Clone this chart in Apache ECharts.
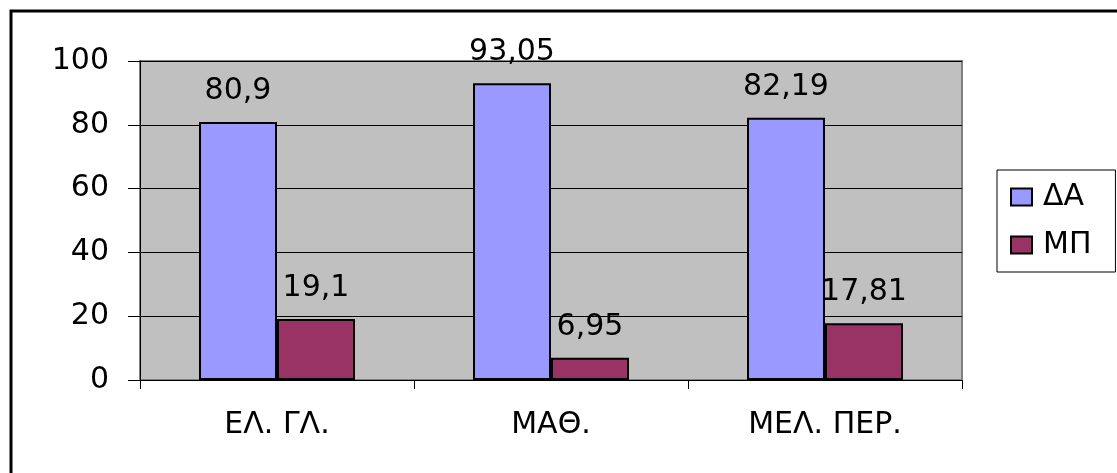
<!DOCTYPE html>
<html>
<head>
<meta charset="utf-8">
<script src="https://cdn.jsdelivr.net/npm/echarts@6/dist/echarts.min.js"></script>
<style>
  html, body { margin: 0; padding: 0; background: #fff; }
  #chart { width: 1117px; height: 473px; }
</style>
</head>
<body>
<div id="chart"></div>
<script>
  const categories = ['ΕΛ. ΓΛ.', 'ΜΑΘ.', 'ΜΕΛ. ΠΕΡ.'];
  const seriesNames = ['ΔΑ', 'ΜΠ'];
  const daValues = [80.9, 93.05, 82.19];
  const mpValues = [19.1, 6.95, 17.81];
  const colors = ['#9999ff', '#993366'];

  const FONT = '"DejaVu Sans", sans-serif';
  const SIZE = 30;
  const fmt = (p)=> String(p.value).replace('.', ',');

  const myChart = echarts.init(document.getElementById('chart'));

  const bar = (name, data, color)=>({
    name,
    type: 'bar',
    data,
    barWidth: 78,
    barGap: '0%',
    itemStyle: { color, borderColor: '#000', borderWidth: 2 },
    label: {
      show: true,
      position: 'top',
      distance: 16,
      formatter: fmt,
      color: '#000',
      fontFamily: FONT,
      fontSize: SIZE
    }
  });

  myChart.setOption({
    animation: false,
    backgroundColor: '#fff',
    graphic: [{
      type: 'rect',
      shape: { x: 11, y: 11, width: 1130, height: 480 },
      style: { fill: 'none', stroke: '#000', lineWidth: 3 },
      silent: true
    }],
    grid: {
      left: 140, top: 61, right: 155, bottom: 93,
      show: true,
      backgroundColor: '#c0c0c0',
      borderColor: '#808080',
      borderWidth: 2
    },
    legend: {
      orient: 'vertical',
      left: 997,
      top: 170,
      data: seriesNames,
      backgroundColor: '#fff',
      borderColor: '#000',
      borderWidth: 1,
      padding: [12, 24, 12, 13],
      itemGap: 18,
      itemWidth: 21,
      itemHeight: 17,
      icon: 'rect',
      itemStyle: { borderColor: '#000', borderWidth: 2 },
      textStyle: { color: '#000', fontFamily: FONT, fontSize: SIZE, padding: [0, 0, 0, 6] }
    },
    xAxis: {
      type: 'category',
      data: categories,
      axisLine: { lineStyle: { color: '#000', width: 1 } },
      axisTick: { show: true, length: 9, lineStyle: { color: '#000' } },
      axisLabel: { color: '#000', fontFamily: FONT, fontSize: SIZE, margin: 30 },
      splitLine: { show: false }
    },
    yAxis: {
      type: 'value',
      min: 0,
      max: 100,
      interval: 20,
      axisLine: { show: true, lineStyle: { color: '#000', width: 1 } },
      axisTick: { show: true, length: 12, lineStyle: { color: '#000' } },
      axisLabel: { color: '#000', fontFamily: FONT, fontSize: SIZE, margin: 31 },
      splitLine: { show: true, lineStyle: { color: '#000', width: 1 } }
    },
    series: [
      bar(seriesNames[0], daValues, colors[0]),
      bar(seriesNames[1], mpValues, colors[1])
    ]
  });
</script>
</body>
</html>
